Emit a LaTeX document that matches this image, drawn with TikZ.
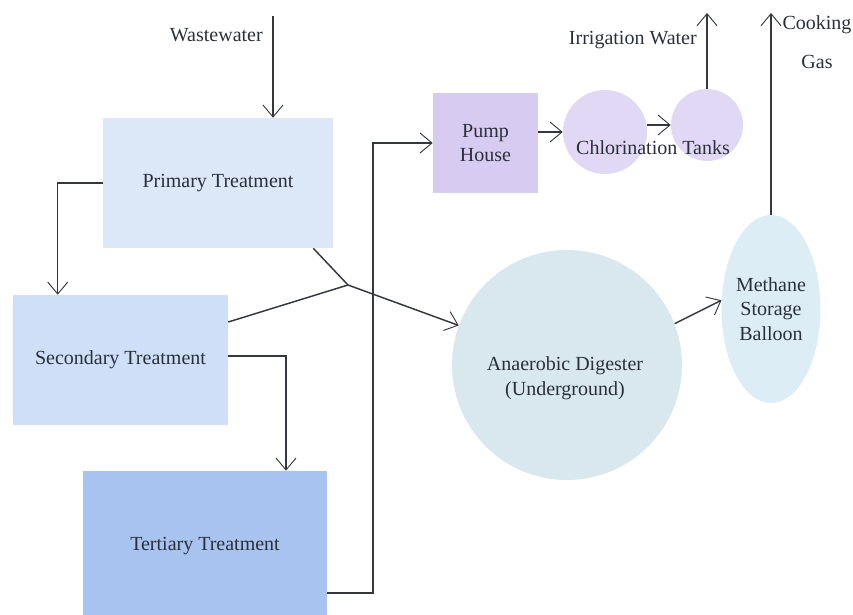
\documentclass[tikz,border=0pt]{standalone}
\usepackage{fontspec}
\setmainfont{Liberation Serif}
\usetikzlibrary{arrows.meta,shapes.geometric}
\definecolor{ink}{HTML}{35373F}
\definecolor{textgray}{HTML}{2A303A}
\definecolor{primfill}{HTML}{DCE8F8}
\definecolor{secfill}{HTML}{CFDFF8}
\definecolor{terfill}{HTML}{A9C3F1}
\definecolor{pumpfill}{HTML}{D8CBF1}
\definecolor{tankfill}{HTML}{E1D8F6}
\definecolor{digfill}{HTML}{D9E7EE}
\definecolor{balfill}{HTML}{DDEDF6}
\begin{document}
\begin{tikzpicture}[x=0.75pt, y=-0.75pt,
    every node/.style={font=\fontsize{15pt}{18.5pt}\selectfont, text=textgray, align=center, inner sep=0pt},
    box/.style={rectangle, draw=none},
    flow/.style={draw=ink, line width=1.1pt, -{Straight Barb[length=9pt, width=15pt, line width=0.7pt]}},
    pipe/.style={draw=ink, line width=1.1pt}]
    \useasboundingbox (0,0) rectangle (853,614);
    \node[box, fill=primfill, minimum width=172.5pt, minimum height=97.5pt] (primary) at (218,183) {Primary Treatment};
    \node[box, fill=secfill, minimum width=161.25pt, minimum height=97.5pt] (secondary) at (120.5,360) {Secondary Treatment};
    \node[box, fill=terfill, minimum width=183pt, minimum height=112.5pt] (tertiary) at (205,546) {Tertiary Treatment};
    \node[box, fill=pumpfill, minimum width=78.75pt, minimum height=75pt] (pump) at (485.5,143) {Pump\\House};
    \node[circle, fill=tankfill, minimum size=63pt] (tank1) at (605,132) {};
    \node[circle, fill=tankfill, minimum size=54pt] (tank2) at (707,125) {};
    \node (chlor) at (653,148) {Chlorination Tanks};
    \node[circle, fill=digfill, minimum size=172.5pt] (digester) at (567,365) {};
    \node (digtext) at (565,378) {Anaerobic Digester\\(Underground)};
    \node[ellipse, fill=balfill, minimum width=52.5pt, minimum height=141pt] (balloon) at (771,309) {Methane\\Storage\\Balloon};
    \coordinate (wwin) at (273,16);
    \coordinate (junction) at (348,285);
    \coordinate (riser) at (373,0);
    \coordinate (irrig) at (707,13);
    \coordinate (gas) at (768,13);
    \node[anchor=east] (wwlabel) at (263,35) {Wastewater};
    \node[anchor=east] (irlabel) at (697,40) {Irrigation Water};
    \node (gaslabel) at (817,42) {Cooking\\[11pt]Gas};
    \draw[flow] (wwin) -- (wwin |- primary.north);
    \draw[flow] (primary.west) -| ([xshift=33.75pt]secondary.north west);
    \draw[flow] ([yshift=3pt]secondary.east) -| ([xshift=60.75pt]tertiary.north);
    \draw[flow] ([yshift=-35.25pt]tertiary.east) -| (riser |- pump.west) -- (pump.west);
    \draw[pipe] ([xshift=-15pt]primary.south east) -- (junction);
    \draw[pipe] ([yshift=28.5pt]secondary.east) -- (junction);
    \draw[flow] (junction) -- (digester);
    \draw[flow] (pump.east |- tank1.west) -- (tank1.west);
    \draw[flow] (tank1.east |- tank2.west) -- (tank2.west);
    \draw[flow] (tank2.north) -- (irrig);
    \draw[flow] (digester.21) -- (balloon.170);
    \draw[flow] (balloon.north) -- (balloon.north |- gas);
\end{tikzpicture}
\end{document}
